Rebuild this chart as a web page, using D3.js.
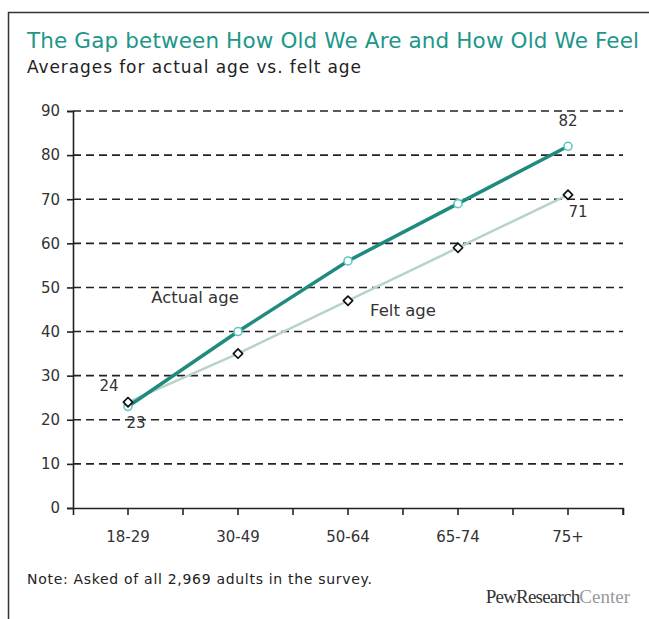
<!DOCTYPE html>
<html><head><meta charset="utf-8">
<script src="https://cdn.jsdelivr.net/npm/d3@7"></script>
<style>body{margin:0;background:#fff}svg{display:block}</style>
</head><body>
<svg id="c" width="649" height="619"></svg>
<script>
const categories = ["18-29","30-49","50-64","65-74","75+"];
const actualAge = [23, 40, 56, 69, 82];
const feltAge = [24, 35, 47, 59, 71];
const yTicks = [0,10,20,30,40,50,60,70,80,90];

const svg = d3.select("#c");
const font = "'DejaVu Sans', Verdana, sans-serif";
svg.append("rect").attr("x",8.5).attr("y",12.5).attr("width",660).attr("height",640)
  .attr("fill","#fff").attr("stroke","#333").attr("stroke-width",1.5);

svg.append("text").attr("x",27).attr("y",48).attr("fill","#1e9689")
  .attr("font-family",font).attr("font-size",21.5).attr("textLength",612)
  .text("The Gap between How Old We Are and How Old We Feel");
svg.append("text").attr("x",27).attr("y",73).attr("fill","#222")
  .attr("font-family",font).attr("font-size",17).attr("textLength",334)
  .text("Averages for actual age vs. felt age");

const pLeft=73, pRight=623, pTop=111, pBottom=508;
const x = d3.scaleBand().domain(categories).range([pLeft,pRight]);
const y = d3.scaleLinear().domain([0,90]).range([pBottom,pTop]);
const cx = d => x(d)+x.bandwidth()/2;

// gridlines
svg.append("g").selectAll("line").data(yTicks.filter(t=>t>0)).join("line")
  .attr("x1",pLeft).attr("x2",pRight).attr("y1",d=>y(d)).attr("y2",d=>y(d))
  .attr("stroke","#222").attr("stroke-width",1.6).attr("stroke-dasharray","8,5");

// y axis
const ya = svg.append("g").attr("transform",`translate(${pLeft},0)`)
  .call(d3.axisLeft(y).tickValues(yTicks).tickSize(6).tickPadding(7));
ya.select(".domain").attr("stroke","#222").attr("stroke-width",1.6);
ya.selectAll(".tick line").attr("stroke","#222").attr("stroke-width",1.6);
ya.selectAll("text").attr("font-family",font).attr("font-size",15).attr("fill","#333");

// x axis
const xa = svg.append("g").attr("transform",`translate(0,${pBottom})`)
  .call(d3.axisBottom(x).tickSize(7).tickPadding(16));
xa.select(".domain").attr("stroke","#222").attr("stroke-width",1.6);
xa.selectAll(".tick line").attr("stroke","#222").attr("stroke-width",1.6);
xa.selectAll("text").attr("font-family",font).attr("font-size",15).attr("fill","#333");
const bounds = categories.map(c=>x(c)).slice(1).concat([pRight]);
svg.append("g").selectAll("line").data(bounds).join("line")
  .attr("x1",d=>d).attr("x2",d=>d).attr("y1",pBottom).attr("y2",pBottom+7)
  .attr("stroke","#222").attr("stroke-width",1.6);

const line = d3.line().x((d,i)=>cx(categories[i])).y(d=>y(d));
svg.append("path").datum(feltAge).attr("d",line).attr("fill","none")
  .attr("stroke","#b7d3c8").attr("stroke-width",2.5);
svg.append("path").datum(actualAge).attr("d",line).attr("fill","none")
  .attr("stroke","#1f8a80").attr("stroke-width",3.5);

// actual markers
svg.append("g").selectAll("circle").data(actualAge).join("circle")
  .attr("cx",(d,i)=>cx(categories[i])).attr("cy",d=>y(d)).attr("r",4)
  .attr("fill","#fff").attr("stroke","#5cc9c0").attr("stroke-width",1.6);
// felt markers (diamonds)
const dsym = d3.symbol().type(d3.symbolDiamond2).size(55);
svg.append("g").selectAll("path").data(feltAge).join("path")
  .attr("d",dsym).attr("transform",(d,i)=>`translate(${cx(categories[i])},${y(d)})`)
  .attr("fill","#fff").attr("stroke","#111").attr("stroke-width",1.7).attr("stroke-linejoin","round");

const lbl = (t,xx,yy,fs)=>svg.append("text").attr("x",xx).attr("y",yy).attr("text-anchor","middle")
  .attr("font-family",font).attr("font-size",fs||15).attr("fill","#333").text(t);
lbl(feltAge[0], cx(categories[0])-19, y(feltAge[0])-11);
lbl(actualAge[0], cx(categories[0])+8, y(actualAge[0])+21);
lbl(actualAge[4], cx(categories[4]), y(actualAge[4])-20);
lbl(feltAge[4], cx(categories[4])+10, y(feltAge[4])+22);
lbl("Actual age", 195, 303, 16.5);
lbl("Felt age", 403, 316, 16.5);

svg.append("text").attr("x",27).attr("y",584).attr("font-family",font).attr("font-size",14)
  .attr("fill","#222").attr("textLength",345).text("Note: Asked of all 2,969 adults in the survey.");
const pw = svg.append("text").attr("x",630).attr("y",603).attr("text-anchor","end")
  .attr("font-family","'Liberation Serif', serif").attr("font-size",19).attr("fill","#333");
pw.append("tspan").attr("letter-spacing",-0.8).text("PewResearch");
pw.append("tspan").attr("fill","#999").text("Center");
</script>
</body></html>
